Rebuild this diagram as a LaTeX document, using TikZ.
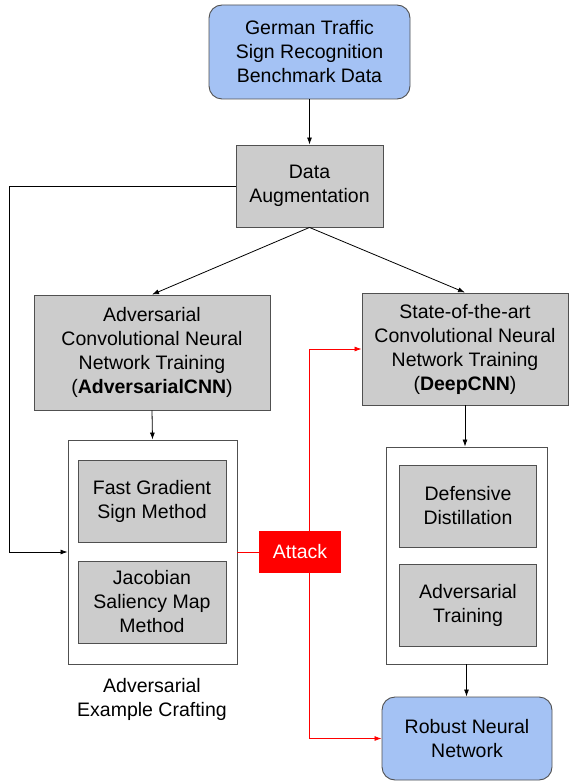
\documentclass[tikz,border=0pt]{standalone}
\usepackage{fontspec}
\setmainfont{Liberation Sans}
\usetikzlibrary{arrows.meta}
\definecolor{boxblue}{HTML}{A4C2F4}
\definecolor{boxgray}{HTML}{CCCCCC}
\definecolor{edgegray}{HTML}{505050}
\definecolor{atkred}{HTML}{FF0000}
\tikzset{
  base/.style={draw=edgegray, line width=0.9pt, align=center, inner sep=0pt,
    font=\fontsize{19.5}{24}\selectfont, text=black},
  bluebox/.style={base, fill=boxblue, rounded corners=13pt},
  graybox/.style={base, fill=boxgray},
  framebox/.style={base, fill=white},
  attackbox/.style={align=center, inner sep=0pt, fill=atkred, text=white,
    font=\fontsize{19.5}{24}\selectfont, minimum width=82pt, minimum height=42pt},
  caption/.style={align=center, font=\fontsize{19.5}{24}\selectfont},
  arr/.style={draw=black, line width=0.8pt, -{Latex[length=7pt,width=5pt]}},
  redarr/.style={draw=atkred, line width=0.8pt, -{Latex[length=7pt,width=5pt]}},
  redline/.style={draw=atkred, line width=0.8pt},
}
\begin{document}
\begin{tikzpicture}[x=1pt,y=-1pt]
\useasboundingbox (0,0) rectangle (569,783);
\node[bluebox, minimum width=201pt, minimum height=94pt] (gtsrb) at (309.5,52)
  {German Traffic\\Sign Recognition\\Benchmark Data};
\node[graybox, minimum width=147pt, minimum height=82pt] (aug) at (309.5,186)
  {Data\\Augmentation};
\node[graybox, minimum width=236pt, minimum height=115pt] (acnn) at (152,352.5)
  {Adversarial\\Convolutional Neural\\Network Training\\(\textbf{AdversarialCNN})};
\node[graybox, minimum width=206pt, minimum height=112pt] (dcnn) at (465,349)
  {State-of-the-art\\Convolutional Neural\\Network Training\\(\textbf{DeepCNN})};
\node[framebox, minimum width=169pt, minimum height=224pt] (outerL) at (152.5,552) {};
\node[graybox, minimum width=148pt, minimum height=82pt] (fgsm) at (152,501)
  {Fast Gradient\\Sign Method};
\node[graybox, minimum width=148pt, minimum height=82pt] (jsma) at (152,602)
  {Jacobian\\Saliency Map\\Method};
\node[caption] (cap) at (152,699.5) {Adversarial\\Example Crafting};
\node[attackbox] (attack) at (300,552) {Attack};
\node[framebox, minimum width=161pt, minimum height=217pt] (outerR) at (466.5,555.5) {};
\node[graybox, minimum width=137pt, minimum height=82pt] (dd) at (468,506)
  {Defensive\\Distillation};
\node[graybox, minimum width=137pt, minimum height=82pt] (at) at (468,605)
  {Adversarial\\Training};
\node[bluebox, minimum width=170pt, minimum height=83pt] (rnn) at (467,738.5)
  {Robust Neural\\Network};
\coordinate (lc) at (9,186);
\draw[arr] (gtsrb.south) -- (aug.north);
\draw[arr] (aug.west) -- (lc) |- (outerL.west);
\draw[arr] (aug.south) -- (acnn.north);
\draw[arr] (aug.south) -- (dcnn.north);
\draw[arr] (acnn.south) -- (outerL.north);
\draw[arr] (dcnn.south) -- (dcnn.south |- outerR.north);
\draw[arr] (outerR.south) -- (outerR.south |- rnn.north);
\draw[redline] (outerL.east) -- (attack.west);
\draw[redarr] ([xshift=9pt]attack.north) |- (dcnn.west);
\draw[redarr] ([xshift=9pt]attack.south) |- (rnn.west);
\end{tikzpicture}
\end{document}
